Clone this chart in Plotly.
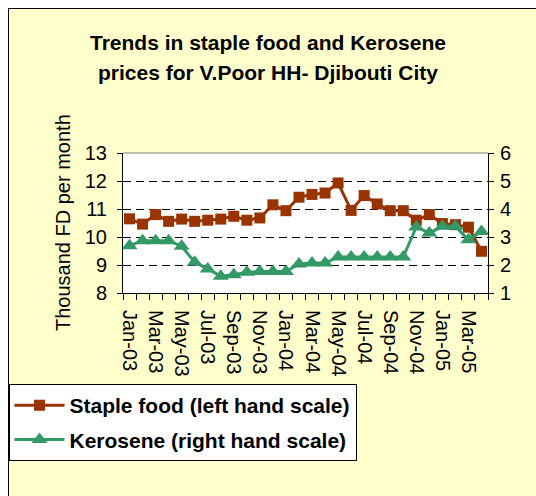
import plotly.graph_objects as go

# monthly series, Jan-03 .. Apr-05
months = ["Jan-03", "Feb-03", "Mar-03", "Apr-03", "May-03", "Jun-03", "Jul-03",
          "Aug-03", "Sep-03", "Oct-03", "Nov-03", "Dec-03", "Jan-04", "Feb-04",
          "Mar-04", "Apr-04", "May-04", "Jun-04", "Jul-04", "Aug-04", "Sep-04",
          "Oct-04", "Nov-04", "Dec-04", "Jan-05", "Feb-05", "Mar-05", "Apr-05"]

staple_food = [10.65, 10.46, 10.80, 10.56, 10.64, 10.56, 10.60, 10.64, 10.74, 10.60,
               10.68, 11.15, 10.94, 11.42, 11.52, 11.57, 11.93, 10.95, 11.48, 11.18,
               10.94, 10.94, 10.60, 10.80, 10.48, 10.44, 10.35, 9.49]

kerosene = [2.69, 2.87, 2.87, 2.87, 2.67, 2.10, 1.86, 1.60, 1.65, 1.74,
            1.77, 1.77, 1.77, 2.04, 2.07, 2.07, 2.29, 2.29, 2.29, 2.29,
            2.29, 2.29, 3.36, 3.14, 3.38, 3.38, 2.90, 3.20]

FONT = "Liberation Sans, Arial, sans-serif"
BROWN = "#993300"
GREEN = "#339966"

# page is 536x496; the chart starts 8px in (body margin top/left)
OFF = 8
W, H = 536 - OFF, 496 - OFF
# plot area, in screen pixels
L, R, T, B = 123, 488, 153, 293

def px(x):
    return (x - L) / (R - L)

def py(y):
    return (B - y) / (B - T)

x = list(range(len(months)))

fig = go.Figure()
fig.add_trace(go.Scatter(
    x=x, y=staple_food, name="Staple food (left hand scale)",
    mode="lines+markers", legendgroup="a",
    line=dict(color=BROWN, width=3),
    marker=dict(symbol="square", size=11, color=BROWN),
))
fig.add_trace(go.Scatter(
    x=x, y=kerosene, name="Kerosene (right hand scale)", yaxis="y2",
    mode="lines+markers", legendgroup="b",
    line=dict(color=GREEN, width=3),
    marker=dict(symbol="triangle-up", size=14, color=GREEN),
))

fig.update_layout(
    width=W, height=H, autosize=False,
    margin=dict(l=L - OFF, r=536 - R, t=T - OFF, b=496 - B, autoexpand=False),
    paper_bgcolor="#FFFFCC", plot_bgcolor="white",
    font=dict(family=FONT, size=20, color="black"),
    showlegend=True,
    legend=dict(
        x=px(8.5), y=py(384), xanchor="left", yanchor="top",
        bgcolor="white", bordercolor="black", borderwidth=1,
        font=dict(family=FONT, size=21, color="black", weight="bold"),
        tracegroupgap=4, itemwidth=50,
    ),
    xaxis=dict(
        range=[-0.5, len(months) - 0.5], automargin=False,
        tickmode="array", tickvals=x[::2], ticktext=months[::2],
        tickangle=90, ticks="", tickfont=dict(size=20), ticklabelstandoff=12,
        showline=True, linecolor="black", linewidth=1,
        showgrid=False, zeroline=False,
        minor=dict(tickmode="linear", tick0=-0.5, dtick=1, ticks="outside",
                   ticklen=6, tickcolor="black", showgrid=False),
    ),
    yaxis=dict(
        range=[8, 13], dtick=1, ticks="outside", ticklen=5, tickcolor="black",
        showline=True, linecolor="black", linewidth=1, ticklabelstandoff=6,
        showgrid=True, gridcolor="black", griddash="8px,5px", gridwidth=1,
        zeroline=False, tickfont=dict(size=20), automargin=False,
    ),
    yaxis2=dict(
        range=[1, 6], dtick=1, overlaying="y", side="right",
        ticks="outside", ticklen=5, tickcolor="black",
        showline=True, linecolor="black", linewidth=1, ticklabelstandoff=2,
        showgrid=False, zeroline=False, tickfont=dict(size=20), automargin=False,
    ),
)

# title lines
for txt, yy in [("Trends in staple food and Kerosene", 43),
                ("prices for V.Poor HH- Djibouti City", 72)]:
    fig.add_annotation(text=txt, x=px(268), y=py(yy), xref="paper", yref="paper",
                       showarrow=False, xanchor="center", yanchor="middle",
                       font=dict(family=FONT, size=21, color="black", weight="bold"))

fig.add_annotation(text="Thousand FD per month", x=px(63), y=py(223),
                   xref="paper", yref="paper", showarrow=False, textangle=-90,
                   xanchor="center", yanchor="middle",
                   font=dict(family=FONT, size=20, color="black"))

# top border of plot area (grey) and chart frame at top/left
fig.add_shape(type="line", xref="paper", yref="paper", x0=0, x1=1, y0=1, y1=1,
              line=dict(color="#808080", width=1))
fig.add_shape(type="line", xref="paper", yref="paper", x0=px(OFF), x1=px(540),
              y0=py(OFF), y1=py(OFF), line=dict(color="black", width=2))
fig.add_shape(type="line", xref="paper", yref="paper", x0=px(OFF), x1=px(OFF),
              y0=py(OFF), y1=py(500), line=dict(color="black", width=2))

fig.write_html("out.html",
               post_script="document.body.style.margin='8px 0 0 8px';")
